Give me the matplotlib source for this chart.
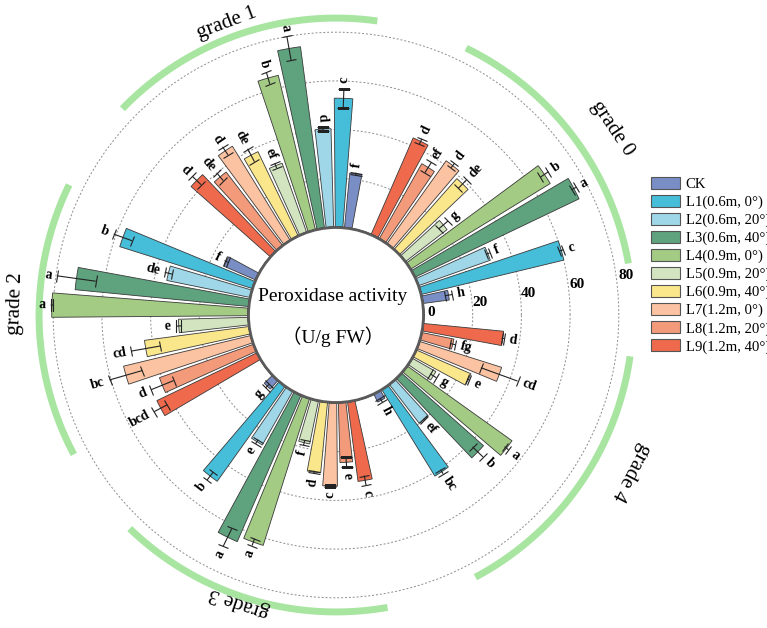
import numpy as np
import matplotlib
matplotlib.use('Agg')
import matplotlib.pyplot as plt
from matplotlib.patches import Patch, Circle

plt.rcParams['font.family'] = ['Liberation Serif', 'Noto Sans CJK SC']

# ---- data ----
treatments = ['CK', 'L1(0.6m, 0°)', 'L2(0.6m, 20°)', 'L3(0.6m, 40°)', 'L4(0.9m, 0°)',
              'L5(0.9m, 20°)', 'L6(0.9m, 40°)', 'L7(1.2m, 0°)', 'L8(1.2m, 20°)', 'L9(1.2m, 40°)']
grades = ['grade 0', 'grade 1', 'grade 2', 'grade 3', 'grade 4']

grade0 = [10.8, 60.1, 31.1, 74.5, 67.1, 21.4, 38.7, 41.7, 35.3, 43.2]
grade1 = [22.4, 52.9, 40.4, 75.0, 65.1, 30.0, 38.2, 45.2, 37.9, 43.4]
grade2 = [14.0, 57.0, 34.8, 71.5, 80.6, 28.6, 43.2, 53.6, 40.8, 45.4]
grade3 = [4.5, 47.8, 25.2, 65.4, 63.1, 17.9, 29.0, 34.2, 24.5, 32.8]
grade4 = [3.5, 41.5, 19.9, 44.8, 52.7, 11.0, 24.3, 35.2, 13.3, 33.0]

err0 = [1.5, 0.8, 0.8, 1.0, 2.0, 2.5, 2.5, 1.2, 2.5, 1.2]
err1 = [0.5, 4.0, 0.8, 5.0, 2.5, 1.0, 3.0, 2.0, 2.0, 2.5]
err2 = [0.8, 4.0, 1.5, 8.0, 0.5, 1.0, 6.0, 7.0, 5.0, 3.0]
err3 = [1.0, 2.0, 1.0, 4.0, 1.5, 1.0, 0.5, 0.3, 2.0, 2.0]
err4 = [1.0, 1.0, 0.3, 3.0, 1.0, 1.5, 0.5, 8.0, 1.0, 0.5]

let0 = ['h', 'c', 'f', 'a', 'b', 'g', 'de', 'd', 'ef', 'd']
let1 = ['f', 'c', 'd', 'a', 'b', 'ef', 'de', 'd', 'de', 'd']
let2 = ['f', 'b', 'de', 'a', 'a', 'e', 'cd', 'bc', 'd', 'bcd']
let3 = ['g', 'b', 'e', 'a', 'a', 'f', 'd', 'c', 'e', 'c']
let4 = ['h', 'bc', 'ef', 'b', 'a', 'g', 'e', 'cd', 'fg', 'd']

rticks = [0, 20, 40, 60, 80]

values = [grade0, grade1, grade2, grade3, grade4]
errors = [err0, err1, err2, err3, err4]
letters = [let0, let1, let2, let3, let4]

colors = ['#7a8ec6', '#46bdd9', '#9fd7e8', '#5ea27e', '#a3cb84',
          '#d2e5c0', '#fae78c', '#fbc3a2', '#f39a7b', '#ef6a4d']
arc_color = '#a8e5a1'

# ---- layout (pixels) ----
W, H = 767, 628
cx, cy = 336, 315
r0 = 88.0      # radius of value 0
k = 2.435      # px per unit
vmax = 95
R = r0 + k * vmax

# where the grade titles sit (angle in degrees, radius in px)
title_ang = [34, 110.5, 178, 251.5, 332]
title_rad = [333, 312, 321, 303, 334]

fig = plt.figure(figsize=(W / 100, H / 100), dpi=100)
ax = fig.add_axes([(cx - R) / W, (H - cy - R) / H, 2 * R / W, 2 * R / H], projection='polar')
ax.set_ylim(0, vmax)
ax.set_rorigin(-r0 / k)
ax.set_xticks([])
ax.set_yticks(rticks[1:])
ax.set_yticklabels([])
ax.xaxis.grid(False)
ax.yaxis.grid(True, linestyle=(0, (2, 2)), color='#8c8c8c', linewidth=0.7)
ax.set_axisbelow(True)
for s in ax.spines.values():
    s.set_visible(False)
ax.patch.set_alpha(0)

start, step = 10, 6
for g in range(5):
    ang = start + (g * 12 + np.arange(10)) * step
    th = np.deg2rad(ang)
    v = np.array(values[g])
    e = np.array(errors[g])
    ax.bar(th, v, width=np.deg2rad(step) * 0.82, bottom=0, color=colors,
           edgecolor='#3a3a3a', linewidth=0.6, zorder=2)
    ax.errorbar(th, v, yerr=e, fmt='none', ecolor='#222222', elinewidth=0.8,
                capsize=4, capthick=0.8, zorder=3)
    for a, t, vv, ee, lab in zip(ang, th, v, e, letters[g]):
        d = a % 360
        if 90 < d < 270:
            rot, ha = d - 180, 'right'
        else:
            rot, ha = d, 'left'
        ax.text(t, vv + ee + 2.2, lab, rotation=rot, rotation_mode='anchor',
                ha=ha, va='center', fontsize=10, fontweight='bold')
    # grade arc and label
    arc_t = np.linspace(th[0], th[-1], 120)
    ax.plot(arc_t, np.full_like(arc_t, 85.8), color=arc_color, lw=5,
            solid_capstyle='butt', clip_on=False, zorder=1)
    ta = title_ang[g]
    ax.text(np.deg2rad(ta), (title_rad[g] - r0) / k, grades[g], rotation=ta - 90,
            rotation_mode='anchor', ha='center', va='center', fontsize=15, clip_on=False)

# radial labels
for v in rticks:
    ax.annotate(str(v), xy=(0, v), xytext=(5, (3 + 0.46 * v) * 0.72),
                textcoords='offset points', ha='center', va='center',
                fontsize=11, fontweight='bold', annotation_clip=False, zorder=4)

# centre circle, drawn over the bar bases
ax.add_patch(Circle((0.5, 0.5), 87.5 / (2 * R), transform=ax.transAxes,
                    facecolor='white', edgecolor='#5a5a5a', lw=2.0,
                    zorder=5, clip_on=False))
fig.text((cx - 3) / W, 1 - (cy - 18) / H, 'Peroxidase activity', ha='center', va='center',
         fontsize=14, zorder=6)
fig.text((cx - 3) / W, 1 - (cy + 22) / H, '（U/g FW）', ha='center', va='center',
         fontsize=14, zorder=6)

handles = [Patch(facecolor=c, edgecolor='#555555', linewidth=0.8, label=l)
           for c, l in zip(colors, treatments)]
fig.legend(handles=handles, loc='upper left', bbox_to_anchor=(651 / W, 1 - 177 / H),
           bbox_transform=fig.transFigure, frameon=False, fontsize=10.6,
           handlelength=2.0, handleheight=0.9, handletextpad=0.35,
           labelspacing=0.25, borderpad=0, borderaxespad=0)

fig.savefig('out.png', dpi=100)
